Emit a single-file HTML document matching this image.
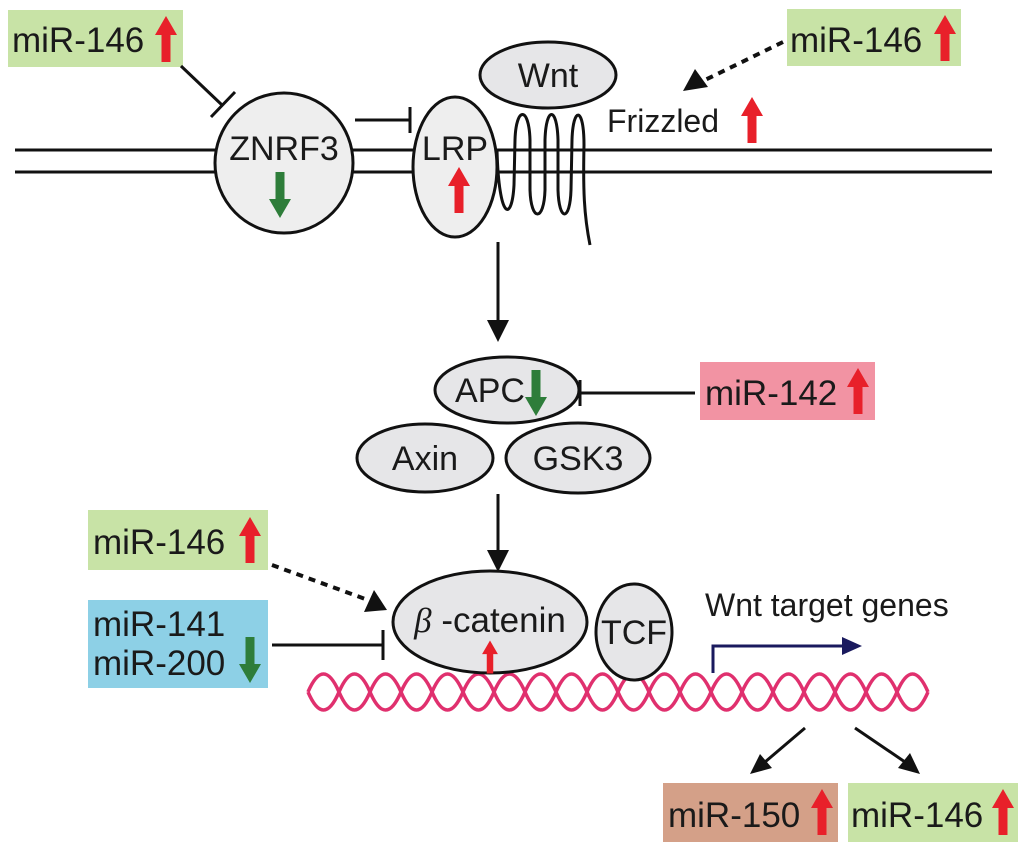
<!DOCTYPE html>
<html><head><meta charset="utf-8"><style>
html,body{margin:0;padding:0;background:#fff;}
svg{display:block;}
text{font-family:"Liberation Sans",sans-serif;fill:#1a1a1a;}
</style></head><body>
<svg width="1024" height="851" viewBox="0 0 1024 851" xmlns="http://www.w3.org/2000/svg">
<defs>
<g id="up"><polygon points="0,-23 -11,-4 -4.5,-4 -4.5,23 4.5,23 4.5,-4 11,-4" fill="#e8202a"/></g>
<g id="dn"><polygon points="0,23 -11,4 -4.5,4 -4.5,-23 4.5,-23 4.5,4 11,4" fill="#2e7d3a"/></g>
</defs>

<!-- membrane -->
<line x1="15" y1="150" x2="992" y2="150" stroke="#111" stroke-width="3"/>
<line x1="15" y1="172" x2="992" y2="172" stroke="#111" stroke-width="3"/>

<!-- Wnt -->
<ellipse cx="548" cy="75" rx="68" ry="33" fill="#e6e6e8" stroke="#111" stroke-width="3"/>
<text x="548" y="87" font-size="34" text-anchor="middle">Wnt</text>

<!-- Frizzled coil -->
<path d="M497,150 C499,222 512,222 514,185 L515,140 C516,106 529,106 530,140 L530,190 C531,222 544,222 545,190 L545,140 C546,106 557,106 558,140 L558,190 C559,222 570,222 571,190 L572,140 C573,106 584,106 584,145 C583,190 584,215 590,245" fill="none" stroke="#111" stroke-width="3"/>

<!-- ZNRF3 -->
<ellipse cx="284" cy="163" rx="69" ry="70" fill="#eeeeee" stroke="#111" stroke-width="3"/>
<text x="284" y="160" font-size="34" text-anchor="middle">ZNRF3</text>
<use href="#dn" x="280" y="195"/>

<!-- LRP -->
<ellipse cx="455" cy="167" rx="42" ry="70" fill="#eeeeee" stroke="#111" stroke-width="3"/>
<text x="455" y="160" font-size="34" text-anchor="middle">LRP</text>
<use href="#up" x="459" y="190"/>

<!-- ZNRF3 -| LRP -->
<line x1="355" y1="120" x2="410" y2="120" stroke="#111" stroke-width="3"/>
<line x1="410" y1="107" x2="410" y2="133" stroke="#111" stroke-width="3"/>

<!-- top-left miR-146 -->
<rect x="8" y="10" width="175" height="57" fill="#c8e3a6"/>
<text x="12" y="52" font-size="35">miR-146</text>
<use href="#up" x="166" y="39"/>
<line x1="181" y1="66" x2="222" y2="105" stroke="#111" stroke-width="3"/>
<line x1="211" y1="117" x2="235" y2="92" stroke="#111" stroke-width="3"/>

<!-- top-right miR-146 -->
<rect x="787" y="9" width="174" height="57" fill="#c8e3a6"/>
<text x="790" y="52" font-size="35">miR-146</text>
<use href="#up" x="945" y="38"/>
<line x1="783" y1="42" x2="705" y2="80" stroke="#111" stroke-width="4" stroke-dasharray="7,6"/>
<polygon points="683,91 695,69 708,87" fill="#111"/>

<text x="607" y="132" font-size="32">Frizzled</text>
<use href="#up" x="752" y="120"/>

<!-- arrow down to APC -->
<line x1="498" y1="242" x2="498" y2="322" stroke="#111" stroke-width="3"/>
<polygon points="498,342 487,320 509,320" fill="#111"/>

<!-- APC complex -->
<ellipse cx="507" cy="390" rx="72" ry="33" fill="#e6e6e8" stroke="#111" stroke-width="3"/>
<text x="490" y="402" font-size="34" text-anchor="middle">APC</text>
<use href="#dn" x="536" y="393"/>
<ellipse cx="425" cy="458" rx="68" ry="34" fill="#e6e6e8" stroke="#111" stroke-width="3"/>
<text x="425" y="470" font-size="34" text-anchor="middle">Axin</text>
<ellipse cx="578" cy="458" rx="72" ry="35" fill="#e6e6e8" stroke="#111" stroke-width="3"/>
<text x="578" y="470" font-size="34" text-anchor="middle">GSK3</text>

<!-- miR-142 -->
<rect x="700" y="362" width="175" height="58" fill="#f293a3"/>
<text x="705" y="405" font-size="35">miR-142</text>
<use href="#up" x="858" y="391"/>
<line x1="695" y1="393" x2="580" y2="393" stroke="#111" stroke-width="3"/>
<line x1="580" y1="380" x2="580" y2="406" stroke="#111" stroke-width="3"/>

<!-- arrow to beta-catenin -->
<line x1="498" y1="494" x2="498" y2="552" stroke="#111" stroke-width="3"/>
<polygon points="498,572 487,550 509,550" fill="#111"/>

<!-- DNA -->
<g fill="none" stroke="#e0306e" stroke-width="3.5">
<path d="M308,692 q15.5,-36 31,0 t31,0 t31,0 t31,0 t31,0 t31,0 t31,0 t31,0 t31,0 t31,0 t31,0 t31,0 t31,0 t31,0 t31,0 t31,0 t31,0 t31,0 t31,0 t31,0"/>
<path d="M308,692 q15.5,36 31,0 t31,0 t31,0 t31,0 t31,0 t31,0 t31,0 t31,0 t31,0 t31,0 t31,0 t31,0 t31,0 t31,0 t31,0 t31,0 t31,0 t31,0 t31,0 t31,0"/>
</g>

<!-- beta-catenin & TCF -->
<ellipse cx="490" cy="622" rx="97" ry="51" fill="#e6e6e8" stroke="#111" stroke-width="3"/>
<text x="490" y="632" font-size="35" text-anchor="middle"><tspan font-style="italic" font-family="Liberation Serif">β</tspan> -catenin</text>
<g transform="translate(490,657) scale(0.72)"><use href="#up"/></g>
<ellipse cx="634" cy="632" rx="38" ry="48" fill="#e6e6e8" stroke="#111" stroke-width="3"/>
<text x="634" y="644" font-size="34" text-anchor="middle">TCF</text>

<!-- Wnt target genes -->
<text x="705" y="616" font-size="32">Wnt target genes</text>
<polyline points="713,673 713,646 845,646" fill="none" stroke="#1a1a5e" stroke-width="3"/>
<polygon points="862,646 842,637 842,655" fill="#1a1a5e"/>

<!-- miR-146 middle -->
<rect x="88" y="510" width="180" height="60" fill="#c8e3a6"/>
<text x="93" y="554" font-size="35">miR-146</text>
<use href="#up" x="250" y="540"/>
<line x1="272" y1="565" x2="368" y2="600" stroke="#111" stroke-width="4" stroke-dasharray="7,6"/>
<polygon points="387,610 364,612 374,590" fill="#111"/>

<!-- miR-141/200 -->
<rect x="88" y="600" width="180" height="88" fill="#8dd0e6"/>
<text x="93" y="636" font-size="35">miR-141</text>
<text x="93" y="675" font-size="35">miR-200</text>
<use href="#dn" x="250" y="660"/>
<line x1="272" y1="645" x2="383" y2="645" stroke="#111" stroke-width="3"/>
<line x1="383" y1="630" x2="383" y2="660" stroke="#111" stroke-width="3"/>

<!-- output arrows -->
<line x1="805" y1="728" x2="765" y2="762" stroke="#111" stroke-width="3"/>
<polygon points="750,774 760,754 772,768" fill="#111"/>
<line x1="855" y1="728" x2="905" y2="762" stroke="#111" stroke-width="3"/>
<polygon points="920,774 898,768 910,753" fill="#111"/>

<rect x="663" y="783" width="175" height="59" fill="#d4a088"/>
<text x="668" y="827" font-size="35">miR-150</text>
<use href="#up" x="822" y="812"/>
<rect x="848" y="783" width="170" height="59" fill="#c8e3a6"/>
<text x="851" y="827" font-size="35">miR-146</text>
<use href="#up" x="1003" y="812"/>
</svg>
</body></html>
